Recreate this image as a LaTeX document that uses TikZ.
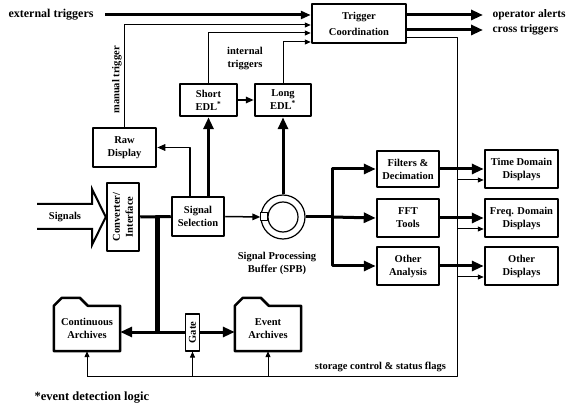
\documentclass[tikz,border=0pt]{standalone}
\usepackage{fontspec}
\setmainfont{Liberation Serif}
\usepackage{tikz}
\usetikzlibrary{positioning, arrows.meta, calc}

\begin{document}
\begin{tikzpicture}[x=1pt, y=-1pt, line join=round,
    every node/.style={font=\fontsize{10.5}{13}\selectfont\bfseries, align=center},
    blk/.style={draw, line width=2.5pt, inner sep=0pt},
    fine/.style={line width=1pt, -{Triangle[length=6pt, width=5pt]}},
    mid/.style={line width=1.5pt, -{Triangle[length=8pt, width=6.5pt]}},
    heavy/.style={line width=3pt, -{Triangle[length=12pt, width=10pt]}},
    folder/.style={line width=2.5pt}]
  \useasboundingbox (0,0) rectangle (567,411);

  \node[blk, minimum width=94pt, minimum height=39pt] (trig) at (359,23.5) {Trigger\\[3pt]Coordination};
  \node[blk, minimum width=57pt, minimum height=32pt] (short) at (208.5,100) {Short\\EDL\textsuperscript{*}};
  \node[blk, minimum width=56pt, minimum height=32pt] (long) at (283,100) {Long\\EDL\textsuperscript{*}};
  \node[blk, minimum width=63pt, minimum height=39pt] (raw) at (124.5,147.5) {Raw\\Display};
  \node[blk, minimum width=68pt, minimum height=32pt, rotate=90] (conv) at (123,217) {Converter/\\Interface};
  \node[blk, minimum width=52pt, minimum height=39pt] (sel) at (198,216.5) {Signal\\Selection};
  \node[circle, draw, line width=1.2pt, minimum size=44pt, inner sep=0pt] (spb) at (283,217) {};
  \node[circle, draw, line width=1.2pt, minimum size=30pt, inner sep=0pt] (spbin) at (spb) {};
  \node[below=9pt of spb, xshift=-6pt] (spblab) {Signal Processing\\Buffer (SPB)};

  \node[blk, minimum width=62pt, minimum height=36pt] (filt) at (408,169) {Filters \&\\Decimation};
  \node[blk, minimum width=62pt, minimum height=38pt] (fft) at (408,218) {FFT\\Tools};
  \node[blk, minimum width=62pt, minimum height=38pt] (oth) at (408,266) {Other\\Analysis};
  \node[blk, minimum width=73pt, minimum height=38pt] (tdd) at (521.5,169) {Time Domain\\Displays};
  \node[blk, minimum width=73pt, minimum height=38pt] (fdd) at (521.5,218) {Freq. Domain\\Displays};
  \node[blk, minimum width=73pt, minimum height=38pt] (odd) at (521.5,266) {Other\\Displays};

  \node[minimum width=66pt, minimum height=45pt] (cont) at (87,328.5) {Continuous\\Archives};
  \node[minimum width=66pt, minimum height=45pt] (evt) at (268,328.5) {Event\\Archives};
  \node[draw, line width=1.2pt, minimum width=37pt, minimum height=14pt, inner sep=0pt, rotate=90] (gate) at (192.5,332.5) {Gate};
  \foreach \f in {cont, evt}
    \draw[folder] (\f.north west) -- ++(8,-8) -- ++(18,0) -- ++(8,8) -- (\f.north east)
      -- (\f.south east) -- (\f.south west) -- cycle;

  \node[anchor=west, font=\fontsize{12}{14}\selectfont\bfseries] (ext) at (5,15) {external triggers};
  \node[anchor=west, font=\fontsize{11.5}{14}\selectfont\bfseries] (oa) at (489,15) {operator alerts};
  \node[anchor=west, font=\fontsize{11.5}{14}\selectfont\bfseries] (ct) at (489,30) {cross triggers};
  \node[rotate=90] (mlab) at (117,80) {manual trigger};
  \node (ilab) at (245,58.5) {internal\\triggers};
  \node (sig) at (65,217) {Signals};
  \node[anchor=east] (stlab) at (449.5,367) {storage control \& status flags};
  \node[anchor=west, font=\fontsize{12.5}{15}\selectfont\bfseries] (note) at (31,398) {*event detection logic};

  \coordinate (t2) at ($(trig.west)+(0,1.5)$);
  \coordinate (t3) at ($(trig.west)+(0,9.5)$);
  \coordinate (t4) at ($(trig.west)+(0,18.5)$);
  \coordinate (jn) at (157,217);
  \coordinate (bus) at (157,332);
  \coordinate (br) at (332,217);
  \coordinate (st) at (457,376);

  \draw[line width=3pt, -{Triangle[length=10pt, width=8pt]}] ([xshift=8pt]ext.east) -- (ext.east -| trig.west);
  \draw[fine] (raw.north) |- (t2);
  \draw[fine] (short.north) |- (t3);
  \draw[fine] (long.north) |- (t4);
  \draw[heavy] (oa.west -| trig.east) -- ([xshift=-6pt]oa.west);
  \draw[heavy] (ct.west -| trig.east) -- ([xshift=-6pt]ct.west);

  \draw[line width=2pt, line join=miter] (37,204) -- (92,204) -- (92,189) -- (conv.north)
    -- (92,245) -- (92,229) -- (37,229);
  \draw[line width=3pt] (conv.south) -- (sel.west);
  \draw[line width=5pt] (jn) -- (bus);
  \draw[heavy] (bus) -- (bus -| cont.east);
  \draw[line width=3pt] (bus) -- (bus -| gate.north);
  \draw[heavy] (bus -| gate.south) -- (bus -| evt.west);

  \draw[mid] ([xshift=-8pt]sel.north) |- (raw.east);
  \draw[heavy] (sel.north -| short.south) -- (short.south);
  \draw[mid] (short.east) -- (long.west);
  \draw[mid] (sel.east) -- (spb.west);
  \draw[line width=1pt, fill=white] ($(spb.west)+(0,-4)$) rectangle ($(spb.west)+(7,4)$);
  \draw[heavy] (spb.north) -- (long.south);

  \draw[line width=3pt] (spb.east) -- (br);
  \draw[heavy] (br) |- (filt.west);
  \draw[heavy] (br) -- (fft.west);
  \draw[heavy] (br) |- (oth.west);
  \draw[heavy] (filt.east) -- (tdd.west);
  \draw[heavy] (fft.east) -- (fdd.west);
  \draw[heavy] (oth.east) -- (odd.west);

  \draw[line width=1pt] ($(trig.east)+(0,14.5)$) -| (st) -- (st -| cont.south);
  \foreach \d in {tdd, fdd, odd} {
    \coordinate (\d in) at ($(\d.west)+(0,11)$);
    \draw[fine] (\d in -| st) -- (\d in);
  }
  \draw[fine] (st -| cont.south) -- (cont.south);
  \draw[fine] (st -| gate.west) -- (gate.west);
  \draw[fine] (st -| evt.south) -- (evt.south);
\end{tikzpicture}
\end{document}
